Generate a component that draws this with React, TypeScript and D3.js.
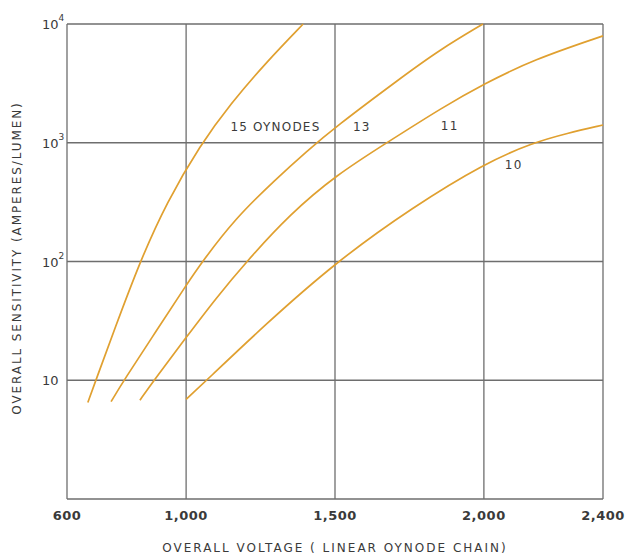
import React from "react";
import * as d3 from "d3";

const xTicks = [600, 1000, 1500, 2000, 2400];
const xTickLabels = ["600", "1,000", "1,500", "2,000", "2,400"];
const yTicks = [10, 100, 1000, 10000];
const yTickBase = ["10", "10", "10", "10"];
const yTickSup = ["", "2", "3", "4"];

const v15 = [670, 697, 760, 845, 935, 1047, 1150, 1270, 1393];
const s15 = [6.5, 10, 27, 100, 316, 955, 2140, 4790, 10000];
const v13 = [748, 791, 900, 1000, 1052, 1164, 1300, 1406, 1500, 1718, 1850, 1997];
const s13 = [6.6, 10, 26, 63, 98, 229, 490, 851, 1350, 3470, 6030, 10000];
const v11 = [845, 892, 1000, 1100, 1203, 1349, 1505, 1674, 1863, 2000, 2165, 2400];
const s11 = [6.8, 10, 22.9, 49, 100, 251, 537, 1000, 2000, 3125, 5000, 7940];
const v10 = [1000, 1069, 1258, 1505, 1762, 2004, 2165, 2279, 2400];
const s10 = [6.9, 10, 28.3, 100, 288, 675, 1000, 1200, 1410];

const seriesV = [v15, v13, v11, v10];
const seriesS = [s15, s13, s11, s10];
const labels = ["15 OYNODES", "13", "11", "10"];
const labelPos = [[1300, 1340], [1590, 1340], [1885, 1360], [2100, 640]];

const W = 627, H = 558;
const left = 67, right = 603, top = 24, bottom = 499;
const font = "'DejaVu Sans', sans-serif";
const ink = "#3a3a3a";

export default function App() {
  const x = d3.scaleLinear().domain([600, 2400]).range([left, right]);
  const y = d3.scaleLog().domain([1, 10000]).range([bottom, top]);
  const line = d3
    .line<[number, number]>()
    .x((d) => x(d[0]))
    .y((d) => y(d[1]))
    .curve(d3.curveBasis);

  return (
    <svg width={W} height={H} style={{ position: "absolute", left: 0, top: 0, background: "#fff" }}>
      <rect x={0} y={0} width={W} height={H} fill="#fff" />
      {xTicks.map((t) => (
        <line key={"gx" + t} x1={x(t)} x2={x(t)} y1={top} y2={bottom} stroke="#6e6e6e" strokeWidth={1.3} />
      ))}
      {[1, ...yTicks].map((t) => (
        <line key={"gy" + t} x1={left} x2={right} y1={y(t)} y2={y(t)} stroke="#6e6e6e" strokeWidth={1.3} />
      ))}
      {seriesV.map((vs, i) => (
        <path
          key={"s" + i}
          d={line(vs.map((v, j) => [v, seriesS[i][j]]) as [number, number][]) || ""}
          fill="none"
          stroke="#e0a030"
          strokeWidth={1.7}
        />
      ))}
      {labels.map((l, i) => (
        <text
          key={"l" + i}
          x={x(labelPos[i][0])}
          y={y(labelPos[i][1])}
          fontFamily={font}
          fontSize={12}
          letterSpacing={1.2}
          fill={ink}
          textAnchor="middle"
          dominantBaseline="middle"
        >
          {l}
        </text>
      ))}
      {xTicks.map((t, i) => (
        <text
          key={"xt" + t}
          x={x(t)}
          y={520}
          fontFamily={font}
          fontSize={13}
          fontWeight="bold"
          letterSpacing={0.5}
          fill={ink}
          textAnchor="middle"
        >
          {xTickLabels[i]}
        </text>
      ))}
      {yTicks.map((t, i) => (
        <text
          key={"yt" + t}
          x={42}
          y={y(t) + 5}
          fontFamily={font}
          fontSize={13}
          fill={ink}
        >
          {yTickBase[i]}
          {yTickSup[i] && (
            <tspan dy={-8} fontSize={9}>
              {yTickSup[i]}
            </tspan>
          )}
        </text>
      ))}
      <text
        x={335}
        y={552}
        fontFamily={font}
        fontSize={12}
        letterSpacing={2}
        fill={ink}
        textAnchor="middle"
      >
        OVERALL VOLTAGE ( LINEAR OYNODE CHAIN)
      </text>
      <text
        transform={`translate(21, 258) rotate(-90)`}
        fontFamily={font}
        fontSize={12}
        letterSpacing={1.9}
        fill={ink}
        textAnchor="middle"
      >
        OVERALL SENSITIVITY (AMPERES/LUMEN)
      </text>
    </svg>
  );
}
